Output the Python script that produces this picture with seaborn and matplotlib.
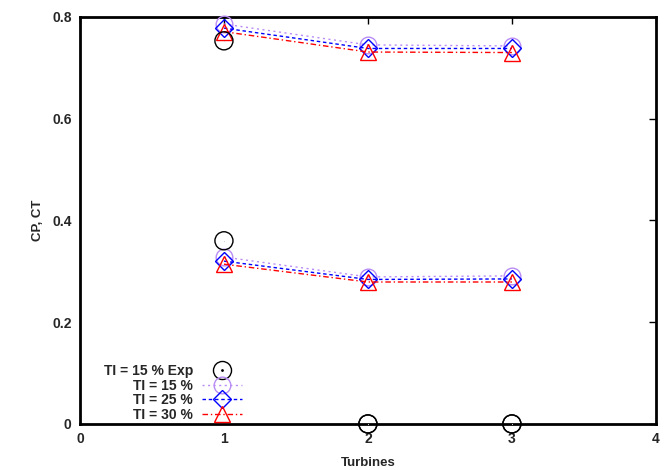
import matplotlib
matplotlib.use("Agg")
import matplotlib.pyplot as plt
from matplotlib.lines import Line2D
from matplotlib.legend_handler import HandlerTuple
import seaborn as sns
import pandas as pd

sns.set_style("white")
plt.rcParams["font.family"] = ["Liberation Sans", "DejaVu Sans"]
plt.rcParams["font.weight"] = "bold"

# Power (CP) and thrust (CT) coefficients per turbine in the row
turbines = [1, 2, 3]
series_labels = ["TI = 15 % Exp", "TI = 15 %", "TI = 25 %", "TI = 30 %"]

cp_exp = [0.360, 0.0, 0.0]
ct_exp = [0.753, 0.0, 0.0]

cp_ti15 = [0.328, 0.289, 0.291]
ct_ti15 = [0.786, 0.745, 0.743]

cp_ti25 = [0.320, 0.284, 0.285]
ct_ti25 = [0.778, 0.738, 0.738]

cp_ti30 = [0.314, 0.279, 0.279]
ct_ti30 = [0.771, 0.731, 0.730]

x_ticks = [0, 1, 2, 3, 4]
x_tick_labels = ["0", "1", "2", "3", "4"]
y_ticks = [0.0, 0.2, 0.4, 0.6, 0.8]
y_tick_labels = ["0", "0.2", "0.4", "0.6", "0.8"]

styles = {
    "TI = 15 %": dict(color="#b98cf5", marker="o", dashes=(1.5, 2.5), ms=12),
    "TI = 25 %": dict(color="#0000ff", marker="D", dashes=(2.5, 2.0), ms=9),
    "TI = 30 %": dict(color="#ff0000", marker="^", dashes=(4, 2, 1, 2), ms=11),
}
model_data = {
    "TI = 15 %": (cp_ti15, ct_ti15),
    "TI = 25 %": (cp_ti25, ct_ti25),
    "TI = 30 %": (cp_ti30, ct_ti30),
}

fig = plt.figure(figsize=(6.72, 4.70), dpi=100)
ax = fig.add_axes([0.119, 0.098, 0.857, 0.866])

# Experimental points: open circles with a centre dot, no connecting line
exp_df = pd.DataFrame({"turbine": turbines * 2, "value": cp_exp + ct_exp})
sns.scatterplot(data=exp_df, x="turbine", y="value", ax=ax, marker="o",
                s=13 ** 2, facecolor="none", edgecolor="black", linewidth=1.0,
                clip_on=False, zorder=5)
sns.scatterplot(data=exp_df, x="turbine", y="value", ax=ax, marker=".",
                s=2, color="black", linewidth=0, clip_on=False, zorder=6)

for name, (cp, ct) in model_data.items():
    st = styles[name]
    for i, vals in enumerate((cp, ct)):
        df = pd.DataFrame({"turbine": turbines, "value": vals})
        sns.lineplot(data=df, x="turbine", y="value", ax=ax,
                     color=st["color"], marker=st["marker"], markersize=st["ms"],
                     markerfacecolor="none", markeredgecolor=st["color"],
                     markeredgewidth=1.0, linewidth=1.0, dashes=st["dashes"],
                     label=name if i == 0 else None, clip_on=False, zorder=4)

ax.set_xlim(0, 4)
ax.set_ylim(0, 0.8)
ax.set_xticks(x_ticks)
ax.set_xticklabels(x_tick_labels)
ax.set_yticks(y_ticks)
ax.set_yticklabels(y_tick_labels)
ax.set_xlabel("Turbines", fontsize=9.5, fontweight="bold", labelpad=8)
ax.set_ylabel("CP, CT", fontsize=9.5, fontweight="bold", labelpad=6)

ax.tick_params(axis="both", which="both", direction="in", length=5, width=1,
               top=True, right=True, labelsize=10, color="black", pad=6)
for lbl in ax.get_xticklabels() + ax.get_yticklabels():
    lbl.set_fontweight("bold")
for sp in ax.spines.values():
    sp.set_visible(True)
    sp.set_color("black")
    sp.set_linewidth(2.0)

handles, labels = ax.get_legend_handles_labels()
exp_ring = Line2D([], [], ls="none", marker="o", ms=13, mfc="none",
                  mec="black", mew=1.0)
exp_dot = Line2D([], [], ls="none", marker=".", ms=2, color="black")
handles = [(exp_ring, exp_dot)] + handles
labels = [series_labels[0]] + labels
leg = ax.legend(handles, labels, loc="lower right", bbox_to_anchor=(0.299, -0.018),
                markerfirst=False, frameon=False, handlelength=2.9,
                handletextpad=0.65, labelspacing=0.03, borderpad=0.2,
                handler_map={tuple: HandlerTuple(ndivide=1, pad=0)},
                prop={"size": 10, "weight": "bold"})

fig.savefig("out.png", dpi=100)
